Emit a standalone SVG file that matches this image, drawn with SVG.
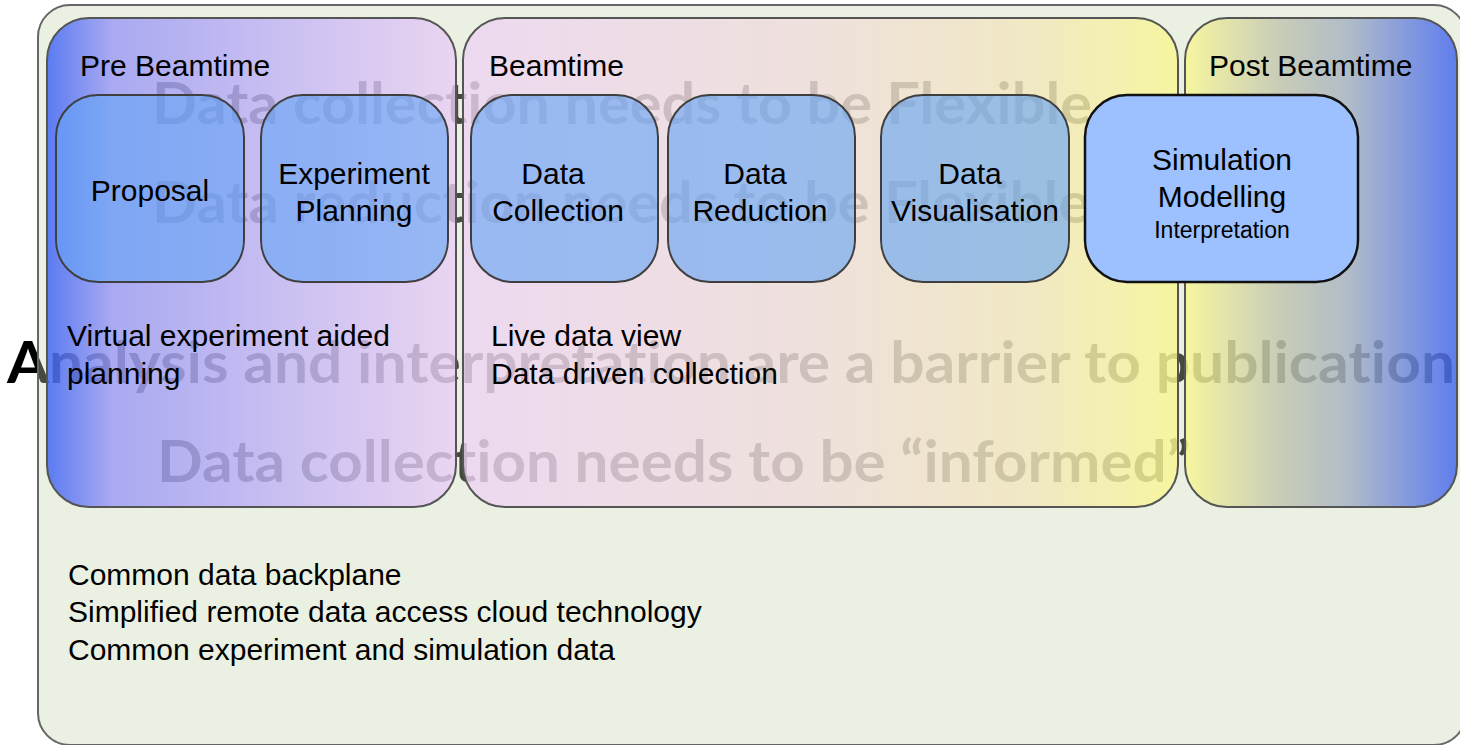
<svg xmlns="http://www.w3.org/2000/svg" width="1460" height="745" viewBox="0 0 1460 745">
  <defs>
    <linearGradient id="gPre" x1="0" y1="0" x2="1" y2="0">
      <stop offset="0" stop-color="#375EF6"/>
      <stop offset="0.16" stop-color="#9998F5"/>
      <stop offset="1" stop-color="#EACEF5"/>
    </linearGradient>
    <linearGradient id="gBeam" x1="0" y1="0" x2="1" y2="0">
      <stop offset="0" stop-color="#EED3F3"/>
      <stop offset="0.5" stop-color="#F0DDDA"/>
      <stop offset="0.8" stop-color="#F3E6BC"/>
      <stop offset="1" stop-color="#F9F78F"/>
    </linearGradient>
    <linearGradient id="gPost" x1="0" y1="0" x2="1" y2="0">
      <stop offset="0" stop-color="#F9F78F"/>
      <stop offset="0.35" stop-color="#C0C3AD"/>
      <stop offset="0.6" stop-color="#A2AFC1"/>
      <stop offset="1" stop-color="#3C60F1"/>
    </linearGradient>
    <style>
      .lbl { font-family: "Liberation Sans", Arial, sans-serif; font-size: 30px; fill: #000; }
      .ctr { text-anchor: middle; }
      .small { font-size: 23px; }
      .wm { font-family: Lato, "Open Sans", sans-serif; font-weight: 700; font-size: 57px; fill: #000; font-variant-ligatures: none; }
      .panel { stroke: #555; stroke-width: 2; fill-opacity: 0.8; }
      .box { stroke: #3F3F3F; stroke-width: 2; fill: #66A4F5; fill-opacity: 0.62; }
    </style>
  </defs>

  <rect width="1460" height="745" fill="#FFFFFF"/>

  <!-- headline statements, shaded by the layers drawn over them -->
  <g id="statements" class="wm">
    <text x="152" y="124" textLength="940" lengthAdjust="spacingAndGlyphs">Data collection needs to be Flexible</text>
    <text x="152" y="223" textLength="938" lengthAdjust="spacingAndGlyphs">Data reduction needs to be Flexible</text>
    <text x="7" y="383" textLength="1448" lengthAdjust="spacingAndGlyphs">Analysis and interpretation are a barrier to publication</text>
    <text x="157" y="482" textLength="1033" lengthAdjust="spacingAndGlyphs">Data collection needs to be “informed”</text>
  </g>

  <!-- common backplane -->
  <g id="backplane">
    <rect x="38" y="5" width="1428" height="740" rx="32" fill="rgb(195,215,175)" fill-opacity="0.35" stroke="#666" stroke-width="2"/>
    <text class="lbl" x="68" y="585">Common data backplane</text>
    <text class="lbl" x="68" y="622">Simplified remote data access cloud technology</text>
    <text class="lbl" x="68" y="660">Common experiment and simulation data</text>
  </g>

  <!-- phase panels -->
  <g id="pre-beamtime">
    <rect class="panel" x="47" y="18" width="409" height="489" rx="42" fill="url(#gPre)"/>
    <text class="lbl" x="80" y="76">Pre Beamtime</text>
    <text class="lbl" x="67" y="346">Virtual experiment aided</text>
    <text class="lbl" x="67" y="384">planning</text>
  </g>
  <g id="beamtime">
    <rect class="panel" x="463" y="18" width="715" height="489" rx="42" fill="url(#gBeam)"/>
    <text class="lbl" x="489" y="76">Beamtime</text>
    <text class="lbl" x="491" y="346">Live data view</text>
    <text class="lbl" x="491" y="384">Data driven collection</text>
  </g>
  <g id="post-beamtime">
    <rect class="panel" x="1185" y="18" width="272" height="489" rx="42" fill="url(#gPost)"/>
    <text class="lbl" x="1209" y="76">Post Beamtime</text>
  </g>

  <!-- workflow steps -->
  <g id="proposal">
    <rect class="box" x="56" y="95" width="188" height="187" rx="42"/>
    <text class="lbl ctr" x="150" y="201">Proposal</text>
  </g>
  <g id="experiment-planning">
    <rect class="box" x="261" y="95" width="187" height="187" rx="42"/>
    <text class="lbl ctr" x="354" y="184">Experiment</text>
    <text class="lbl ctr" x="354" y="221">Planning</text>
  </g>
  <g id="data-collection">
    <rect class="box" x="471" y="95" width="187" height="187" rx="42"/>
    <text class="lbl ctr" x="553" y="184">Data</text>
    <text class="lbl ctr" x="558" y="221">Collection</text>
  </g>
  <g id="data-reduction">
    <rect class="box" x="668" y="95" width="187" height="187" rx="42"/>
    <text class="lbl ctr" x="755" y="184">Data</text>
    <text class="lbl ctr" x="760" y="221">Reduction</text>
  </g>
  <g id="data-visualisation">
    <rect class="box" x="881" y="95" width="188" height="187" rx="42"/>
    <text class="lbl ctr" x="970" y="184">Data</text>
    <text class="lbl ctr" x="975" y="221">Visualisation</text>
  </g>
  <g id="simulation-modelling">
    <rect x="1085" y="95" width="273" height="187" rx="42" fill="#9DC0FF" stroke="#111" stroke-width="2.5"/>
    <text class="lbl ctr" x="1222" y="170">Simulation</text>
    <text class="lbl ctr" x="1222" y="207">Modelling</text>
    <text class="lbl ctr small" x="1222" y="238">Interpretation</text>
  </g>
</svg>
